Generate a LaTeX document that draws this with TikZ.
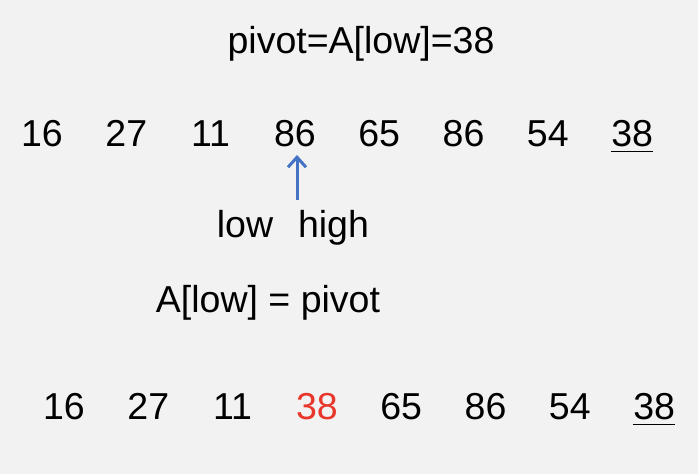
\documentclass[tikz,border=0pt]{standalone}
\usepackage{fontspec}
\setmainfont{Liberation Sans}
\usetikzlibrary{arrows.meta}
\definecolor{bg}{HTML}{F2F2F2}
\definecolor{arrowblue}{HTML}{4472C4}
\definecolor{hired}{HTML}{E8372A}
\begin{document}
\begin{tikzpicture}[x=1pt,y=-1pt,
  txt/.style={inner sep=0pt, anchor=base, font=\fontsize{37.5}{45}\selectfont},
  uline/.style={line width=1.8pt, black},
  ptr/.style={line width=3pt, arrowblue, -{Straight Barb[length=10pt,width=18pt]}}]
\fill[bg] (0,0) rectangle (698,474);
\useasboundingbox (0,0) rectangle (698,474);
\node[txt] (title) at (361,53) {pivot=A[low]=38};
\foreach \v [count=\i] in {16,27,11,86,65,86,54,38}{
  \node[txt] (a\i) at ({42+84.3*(\i-1)},146) {\v};
}
\draw[uline] ([yshift=-5.5pt]a8.base west) -- ([yshift=-5.5pt]a8.base east);
\coordinate (tail) at (297,200);
\draw[ptr] (tail) -- (297,155);
\node[txt] (low) at (245,237) {low};
\node[txt] (high) at (333.5,237) {high};
\node[txt] (assign) at (268,312) {A[low] = pivot};
\foreach \v/\c [count=\i] in {16/black,27/black,11/black,38/hired,65/black,86/black,54/black,38/black}{
  \node[txt, text=\c] (b\i) at ({64+84.3*(\i-1)},419) {\v};
}
\draw[uline] ([yshift=-5.5pt]b8.base west) -- ([yshift=-5.5pt]b8.base east);
\end{tikzpicture}
\end{document}
